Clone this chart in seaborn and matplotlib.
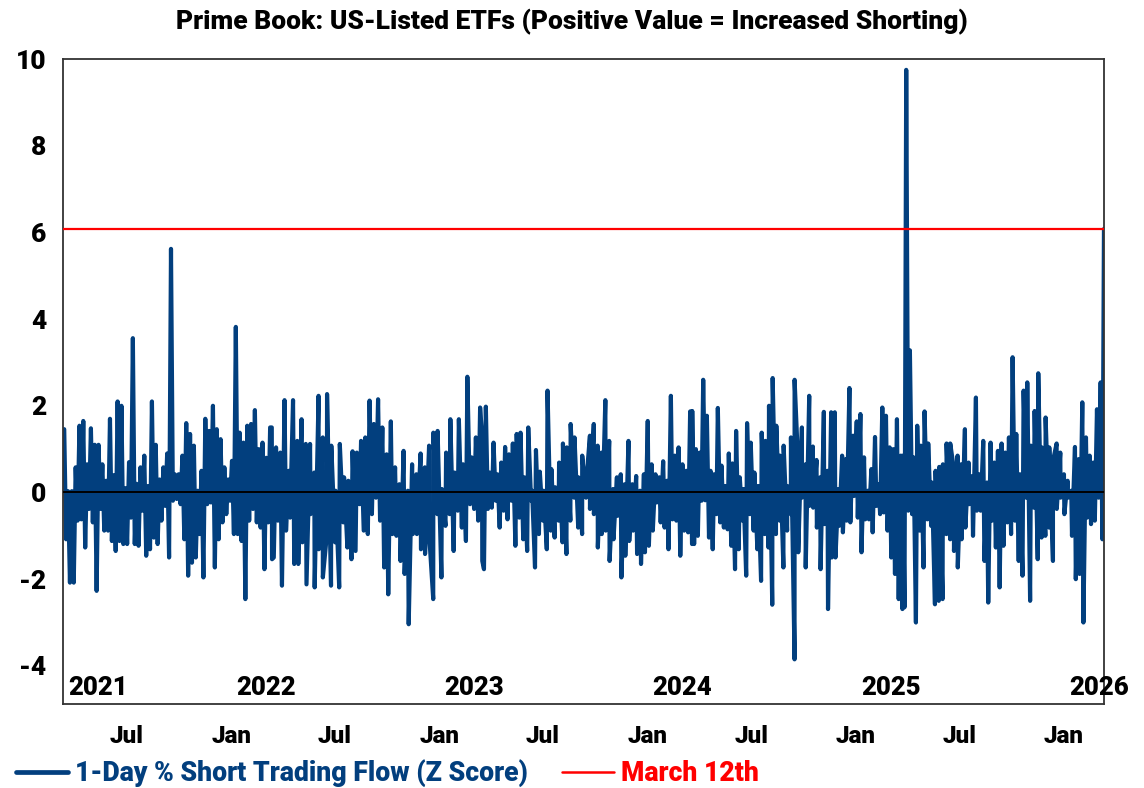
import numpy as np
import pandas as pd
import matplotlib
matplotlib.use("Agg")
import matplotlib.pyplot as plt
import matplotlib.dates as mdates
import seaborn as sns

# values, one year block at a time (Mar -> Mar)
# up_* = upper envelope of the daily series, dn_* = lower envelope
seg_start = ["2021-03-12", "2022-03-11", "2023-03-15", "2024-03-18", "2025-03-22"]
seg_end = ["2022-03-15", "2023-03-19", "2024-03-21", "2025-03-25", "2026-03-11"]

up_2021 = [1.46, 0.03, 0.03, 0.58, 1.54, 1.65, 0.65, 1.48, 1.1, 1.1, 0.65, 0.27, 1.7, 0.4,
           2.1, 2.0, 0.1, 0.7, 3.56, 0.2, 0.58, 0.85, 0.15, 2.1, 1.1, 0.3, 0.58, 0.9, 5.62,
           0.42, 0.42, 0.85, 1.6, 1.35, 1.08, 0.04, 0.5, 1.7, 1.42, 2.0, 1.46, 1.23, 0.58,
           0.3, 0.73, 3.82, 1.38, 1.15, 1.54, 1.58, 1.9, 1.0, 1.15, 0.8, 1.5]
dn_2021 = [-1.08, -2.08, -2.08, -0.65, -0.62, -1.27, -0.38, -0.69, -2.27, -0.38, -0.88, -0.88,
           -1.12, -1.35, -1.12, -1.19, -1.19, -0.58, -1.19, -1.23, -0.42, -1.46, -1.31, -1.04,
           -1.19, -0.65, -0.31, -1.5, -0.19, -0.15, -0.27, -1.08, -1.92, -1.62, -1.5, -0.96,
           -1.96, -0.27, -0.23, -1.73, -1.08, -0.69, -0.5, -0.19, -0.96, -0.96, -1.12, -2.46,
           -0.65, -0.38, -0.69, -0.81, -1.77, -0.69, -1.54]

up_2022 = [1.5, 1.04, 0.92, 2.13, 0.5, 2.13, 1.19, 1.69, 1.12, 1.12, 0.46, 2.23, 1.27, 2.27,
           1.08, 0.04, 1.12, 0.35, 0.27, 0.95, 0.92, 1.19, 1.27, 2.12, 1.58, 2.15, 1.5, 0.88,
           1.64, 0.58, 0.19, 0.96, 0.04, 0.65, 0.42, 0.9, 0.58, 1.08, 1.38, 1.42, 0.08, 0.92,
           1.69, 0.46, 1.69, 0.65, 2.67, 0.81, 1.27, 1.96]
dn_2022 = [-1.5, -0.65, -2.15, -0.88, -0.58, -1.65, -1.65, -1.15, -2.12, -0.5, -2.19, -1.31,
           -1.96, -0.96, -2.15, -1.15, -2.19, -0.69, -1.27, -1.54, -1.35, -0.27, -0.88, -0.96,
           -0.5, -0.12, -0.65, -1.73, -2.35, -0.96, -1.0, -1.58, -1.88, -3.04, -0.96, -0.96,
           -1.31, -1.42, -0.96, -2.46, -0.5, -1.96, -0.77, -0.5, -1.35, -0.42, -0.81, -1.12,
           -0.27, -0.38, -0.65, -1.58]

up_2023 = [1.35, 1.98, 0.46, 1.15, 0.42, 0.69, 1.05, 0.88, 1.13, 1.35, 1.38, 0.35, 1.5, 0.04,
           0.98, 0.48, 0.04, 2.35, 0.54, 0.12, 0.69, 1.13, 1.04, 1.58, 1.27, 0.35, 0.85, 0.19,
           1.31, 1.58, 1.08, 0.92, 2.13, 1.19, 0.08, 0.35, 0.42, 0.19, 1.19, 0.19, 0.38, 0.04,
           0.42, 1.65, 0.65, 0.42, 0.35, 0.72, 0.27, 2.23, 0.85, 1.04, 0.65, 0.5, 1.87]
dn_2023 = [-1.77, -0.38, -0.35, -0.19, -0.81, -0.42, -0.62, -0.19, -1.23, -0.58, -1.08, -1.35,
           -0.19, -1.73, -0.96, -0.65, -1.31, -0.88, -1.04, -0.65, -1.15, -1.42, -0.65, -0.12,
           -0.81, -0.96, -0.12, -0.38, -0.5, -1.27, -0.96, -0.88, -1.58, -1.08, -0.54, -1.96,
           -1.46, -1.12, -0.88, -1.42, -1.65, -1.38, -1.23, -0.88, -0.23, -0.69, -0.81, -1.31,
           -0.62, -0.65, -1.46, -0.88, -0.92, -1.19]

up_2024 = [1.88, 1.0, 0.92, 2.6, 1.77, 0.5, 0.42, 1.95, 0.62, 0.15, 0.9, 0.67, 1.42, 0.35,
           0.08, 1.6, 1.15, 0.46, 0.15, 1.38, 1.19, 2.0, 2.64, 1.54, 0.85, 1.08, 0.15, 1.27,
           2.6, 0.58, 1.5, 0.65, 2.23, 1.06, 0.75, 0.35, 1.86, 0.5, 1.85, 1.85, 0.08, 0.85,
           0.77, 2.41, 1.31, 1.64, 1.81, 0.81, 0.04, 0.54, 1.28, 0.19, 1.96, 1.77, 1.04, 1.0,
           1.69, 0.85]
dn_2024 = [-1.19, -1.0, -0.19, -0.18, -1.04, -1.31, -0.5, -0.69, -0.81, -0.85, -1.23, -1.77,
           -1.31, -0.65, -1.92, -0.5, -0.88, -1.31, -2.04, -0.96, -1.27, -2.59, -0.96, -0.65,
           -1.73, -0.88, -0.5, -3.85, -1.38, -0.12, -1.73, -0.31, -0.35, -0.81, -1.77, -0.73,
           -2.69, -1.5, -1.5, -0.77, -0.92, -0.65, -0.69, -0.08, -0.58, -1.38, -0.62, -0.62,
           -0.92, -0.31, -0.5, -0.46, -0.88, -1.5, -1.88, -2.46, -2.69]

up_2025 = [0.85, 9.75, 3.28, 0.81, 1.54, 1.08, 1.87, 1.13, 0.23, 0.5, 0.59, 0.65, 1.13, 1.13,
           0.54, 0.85, 0.65, 1.46, 0.69, 0.38, 2.19, 0.42, 1.19, 0.23, 1.15, 0.69, 0.96, 1.13,
           0.92, 1.27, 3.12, 1.35, 0.42, 2.35, 2.54, 1.08, 1.88, 2.75, 1.04, 1.73, 1.04, 0.73,
           1.13, 0.92, 0.42, 0.27, 0.04, 1.05, 0.77, 2.08, 1.27, 0.85, 0.69, 1.92, 2.54]
dn_2025 = [-2.65, -0.42, -0.5, -3.0, -0.88, -1.73, -0.62, -0.77, -2.58, -2.5, -2.46, -0.96,
           -1.08, -1.35, -1.73, -1.08, -0.81, -0.27, -1.0, -0.42, -0.42, -1.58, -2.54, -0.65,
           -1.27, -2.19, -1.23, -0.69, -0.96, -0.65, -1.58, -1.92, -0.12, -2.5, -0.35, -1.54,
           -1.04, -1.0, -0.81, -1.58, -0.38, -0.12, -0.5, -0.12, -1.0, -2.0, -1.88, -3.0,
           -0.58, -0.73, -0.65, -0.12, -1.08]

last_date = "2026-03-12"
march12_value = 6.08

title = "Prime Book: US-Listed ETFs (Positive Value = Increased Shorting)"
series_label = "1-Day % Short Trading Flow (Z Score)"
ref_label = "March 12th"
years = [2021, 2022, 2023, 2024, 2025, 2026]

BLUE = "#023f7e"
RED = "#ff0000"

ups = [up_2021, up_2022, up_2023, up_2024, up_2025]
dns = [dn_2021, dn_2022, dn_2023, dn_2024, dn_2025]

rows = []
for s, e, up, dn in zip(seg_start, seg_end, ups, dns):
    t0, t1 = pd.Timestamp(s), pd.Timestamp(e)
    span = t1 - t0
    for i, v in enumerate(up):
        rows.append((t0 + span * ((i + 0.25) / len(up)), v))
    for i, v in enumerate(dn):
        rows.append((t0 + span * ((i + 0.75) / len(dn)), v))
rows.append((pd.Timestamp(last_date), march12_value))
df = pd.DataFrame(rows, columns=["date", "z"]).sort_values("date").reset_index(drop=True)

sns.set_style("white")
plt.rcParams["font.family"] = ["Roboto", "DejaVu Sans"]
plt.rcParams["axes.unicode_minus"] = False
W = "black"  # heaviest weight available

fig = plt.figure(figsize=(11.44, 7.88), dpi=100)
ax = fig.add_axes([0.0553, 0.1066, 0.9097, 0.8185])

sns.lineplot(data=df, x="date", y="z", ax=ax, color=BLUE, linewidth=3.0,
             estimator=None, legend=False, zorder=2)
blue_line = ax.lines[0]
ax.axhline(0, color="black", linewidth=1.4, zorder=3)
red_line = ax.axhline(march12_value, color=RED, linewidth=1.6, zorder=4)

xmin, xmax = pd.Timestamp("2021-03-12"), pd.Timestamp(last_date)
ax.set_xlim(xmin, xmax)
ax.set_ylim(-4.88, 10)
ax.set_yticks(range(-4, 11, 2))
ax.set_xlabel("")
ax.set_ylabel("")

ax.xaxis.set_major_locator(mdates.MonthLocator(bymonth=[1, 7]))
ax.xaxis.set_major_formatter(mdates.DateFormatter("%b"))
ax.tick_params(axis="x", direction="out", length=9, width=1.0, pad=6,
               labelsize=17.5, colors="black")
ax.tick_params(axis="y", direction="out", length=9, width=1.0, pad=3,
               labelsize=19, colors="black")
for lab in ax.get_xticklabels() + ax.get_yticklabels():
    lab.set_fontweight(W)

for sp in ax.spines.values():
    sp.set_color("#333333")
    sp.set_linewidth(1.3)

# year labels sit inside the plot, just right of each January
for yr in years:
    x0 = max(pd.Timestamp(f"{yr}-01-01"), xmin)
    ax.annotate(str(yr), xy=(x0, -4.88), xytext=(3.6, 6.5), textcoords="offset points",
                ha="left", va="baseline", fontsize=18.5, fontweight=W,
                color="black", annotation_clip=False)

fig.suptitle(title, x=0.5, y=0.972, va="center", fontsize=19, fontweight=W, color="black")

leg = fig.legend([blue_line, red_line], [series_label, ref_label], ncol=2,
                 loc="center left", bbox_to_anchor=(16 / 1144, 1 - 773 / 788),
                 frameon=False, fontsize=19.2, handlelength=1.95, handletextpad=0.25,
                 columnspacing=1.3, borderpad=0, borderaxespad=0)
leg.get_lines()[0].set_linewidth(3.4)
leg.get_lines()[1].set_linewidth(1.8)
for txt, col in zip(leg.get_texts(), [BLUE, RED]):
    txt.set_color(col)
    txt.set_fontweight(W)

fig.savefig("out.png", dpi=100)
